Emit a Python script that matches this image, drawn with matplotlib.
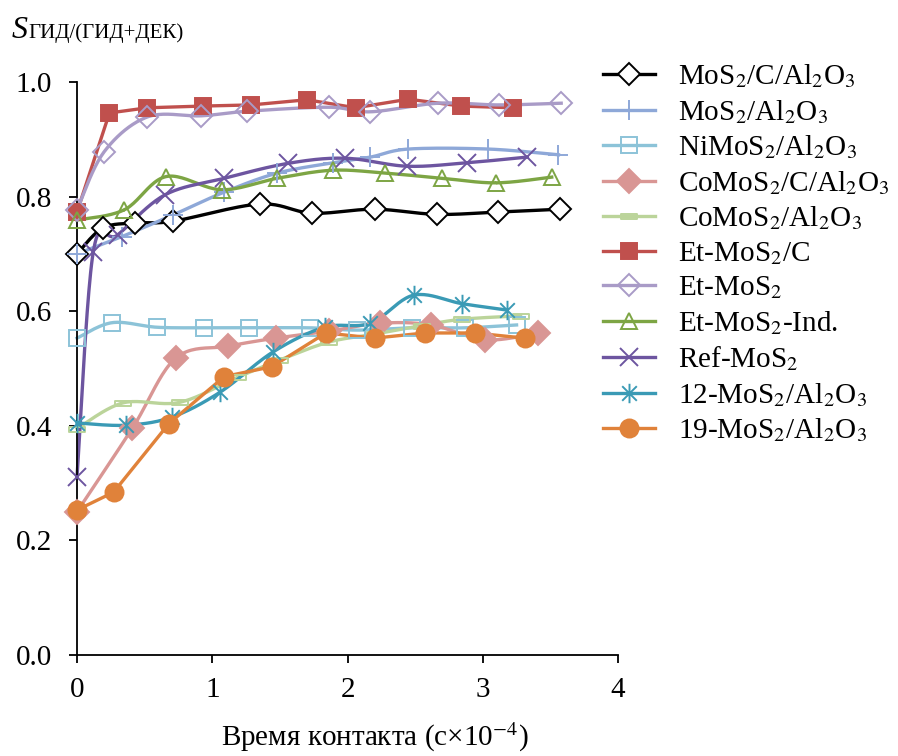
import numpy as np
import matplotlib
matplotlib.use("Agg")
import matplotlib.pyplot as plt
from matplotlib.path import Path

plt.rcParams['font.family'] = ['Liberation Serif', 'DejaVu Serif']
plt.rcParams['mathtext.fontset'] = 'stix'

# ---------------- data ----------------
x_mos2_c_al = [0, 0.19, 0.43, 0.71, 1.35, 1.74, 2.20, 2.66, 3.11, 3.57]
y_mos2_c_al = [0.70, 0.745, 0.754, 0.757, 0.787, 0.771, 0.778, 0.769, 0.773, 0.778]

x_mos2_al = [0, 0.33, 0.71, 1.09, 1.48, 1.89, 2.17, 2.45, 3.04, 3.56]
y_mos2_al = [0.70, 0.73, 0.768, 0.808, 0.841, 0.859, 0.869, 0.883, 0.883, 0.873]

x_nimos2 = [0, 0.26, 0.59, 0.94, 1.27, 1.72, 2.07, 2.48, 2.87, 3.25]
y_nimos2 = [0.553, 0.580, 0.572, 0.571, 0.571, 0.571, 0.567, 0.571, 0.571, 0.576]

x_comos2_c = [0, 0.41, 0.73, 1.12, 1.47, 1.86, 2.24, 2.62, 3.02, 3.41]
y_comos2_c = [0.25, 0.396, 0.518, 0.539, 0.553, 0.565, 0.579, 0.576, 0.550, 0.562]

x_comos2_al = [0, 0.34, 0.76, 1.19, 1.50, 1.86, 2.20, 2.55, 2.85, 3.28]
y_comos2_al = [0.395, 0.44, 0.441, 0.485, 0.515, 0.546, 0.560, 0.575, 0.586, 0.592]

x_et_c = [0, 0.24, 0.52, 0.93, 1.29, 1.70, 2.06, 2.45, 2.84, 3.22]
y_et_c = [0.773, 0.946, 0.955, 0.958, 0.960, 0.969, 0.955, 0.970, 0.958, 0.955]

x_et = [0, 0.20, 0.52, 0.92, 1.26, 1.86, 2.17, 2.67, 3.12, 3.58]
y_et = [0.777, 0.878, 0.939, 0.941, 0.949, 0.956, 0.948, 0.963, 0.960, 0.963]

x_et_ind = [0, 0.35, 0.66, 1.07, 1.48, 1.89, 2.28, 2.70, 3.10, 3.51]
y_et_ind = [0.759, 0.777, 0.835, 0.812, 0.832, 0.846, 0.841, 0.832, 0.824, 0.834]

x_ref = [0, 0.12, 0.30, 0.65, 1.09, 1.56, 1.98, 2.44, 2.88, 3.33]
y_ref = [0.311, 0.703, 0.733, 0.803, 0.832, 0.858, 0.867, 0.853, 0.859, 0.869]

x_12 = [0, 0.36, 0.70, 1.06, 1.45, 1.83, 2.17, 2.49, 2.85, 3.18]
y_12 = [0.405, 0.401, 0.415, 0.459, 0.529, 0.572, 0.579, 0.628, 0.613, 0.602]

x_19 = [0, 0.27, 0.68, 1.09, 1.44, 1.84, 2.20, 2.57, 2.94, 3.31]
y_19 = [0.253, 0.284, 0.404, 0.486, 0.503, 0.562, 0.553, 0.562, 0.562, 0.553]

labels = [
    "MoS$_2$/C/Al$_2$O$_3$",
    "MoS$_2$/Al$_2$O$_3$",
    "NiMoS$_2$/Al$_2$O$_3$",
    "CoMoS$_2$/C/Al$_2$O$_3$",
    "CoMoS$_2$/Al$_2$O$_3$",
    "Et-MoS$_2$/C",
    "Et-MoS$_2$",
    "Et-MoS$_2$-Ind.",
    "Ref-MoS$_2$",
    "12-MoS$_2$/Al$_2$O$_3$",
    "19-MoS$_2$/Al$_2$O$_3$",
]


def smooth(xs, ys, n=24):
    # Catmull-Rom curve through the points, like Excel's smoothed line
    xs = np.asarray(xs, float)
    ys = np.asarray(ys, float)
    px = np.concatenate([[xs[0]], xs, [xs[-1]]])
    py = np.concatenate([[ys[0]], ys, [ys[-1]]])
    ox, oy = [], []
    t = np.linspace(0, 1, n)
    for i in range(1, len(px) - 2):
        for p, out in ((px, ox), (py, oy)):
            p0, p1, p2, p3 = p[i - 1], p[i], p[i + 1], p[i + 2]
            out.extend(0.5 * ((2 * p1) + (-p0 + p2) * t
                              + (2 * p0 - 5 * p1 + 4 * p2 - p3) * t ** 2
                              + (-p0 + 3 * p1 - 3 * p2 + p3) * t ** 3))
    return np.array(ox), np.array(oy)


asterisk = Path([(0, -1), (0, 1), (-0.75, -0.75), (0.75, 0.75),
                 (-0.75, 0.75), (0.75, -0.75)],
                [Path.MOVETO, Path.LINETO, Path.MOVETO, Path.LINETO,
                 Path.MOVETO, Path.LINETO])
dash = Path([(-1, -0.3), (1, -0.3), (1, 0.3), (-1, 0.3), (-1, -0.3)],
            [Path.MOVETO, Path.LINETO, Path.LINETO, Path.LINETO, Path.CLOSEPOLY])

series = [
    (x_mos2_c_al, y_mos2_c_al, "#000000", "D", 11, "white", True),
    (x_mos2_al, y_mos2_al, "#8EA8D8", "+", 15, "none", True),
    (x_nimos2, y_nimos2, "#8CC3D8", "s", 11, "none", True),
    (x_comos2_c, y_comos2_c, "#D99694", "D", 12, None, True),
    (x_comos2_al, y_comos2_al, "#BBD49A", dash, 12, "none", True),
    (x_et_c, y_et_c, "#C0504D", "s", 12, None, False),
    (x_et, y_et, "#A99BC7", "D", 11, "none", True),
    (x_et_ind, y_et_ind, "#7DA544", "^", 12, "none", True),
    (x_ref, y_ref, "#6D55A0", "x", 13, "none", True),
    (x_12, y_12, "#3A9AB5", asterisk, 14, "none", True),
    (x_19, y_19, "#E0823A", "o", 13, None, False),
]

fig = plt.figure(figsize=(8.98, 7.56), dpi=100)
ax = fig.add_axes([77 / 898, 1 - 655 / 756, (618 - 77) / 898, (655 - 82) / 756])

handles = []
for (xs, ys, c, m, ms, mfc, sm), lab in zip(series, labels):
    if sm:
        lx, ly = smooth(xs, ys)
    else:
        lx, ly = xs, ys
    ax.plot(lx, ly, color=c, lw=2.4, clip_on=False, zorder=2)
    face = c if mfc is None else mfc
    ax.plot(xs, ys, ls="none", marker=m, ms=ms, mfc=face, mec=c,
            mew=1.4, clip_on=False, zorder=3)
    h, = ax.plot([], [], color=c, lw=2.4, marker=m, ms=ms, mfc=face,
                 mec=c, mew=1.4)
    handles.append(h)

ax.set_xlim(0, 4)
ax.set_ylim(0, 1.0)
ax.set_xticks([0, 1, 2, 3, 4])
ax.set_yticks(np.arange(0, 1.01, 0.2))
ax.set_yticklabels(["0.0", "0.2", "0.4", "0.6", "0.8", "1.0"])
ax.spines["top"].set_visible(False)
ax.spines["right"].set_visible(False)
for s in ("left", "bottom"):
    ax.spines[s].set_linewidth(1.3)
ax.tick_params(direction="out", length=6, width=1.3, labelsize=21)
ax.tick_params(axis="x", pad=10)
ax.tick_params(axis="y", pad=12)

fig.legend(handles, labels, loc="upper left", bbox_to_anchor=(591 / 898, 1 - 51 / 756),
           frameon=False, fontsize=21, handlelength=1.8, labelspacing=0.26,
           handletextpad=0.8, borderaxespad=0)

fig.text(12 / 898, 1 - 38 / 756, "S", fontsize=23, style="italic", va="baseline")
fig.text(28 / 898, 1 - 38 / 756, "ГИД/(ГИД+ДЕК)", fontsize=15, va="baseline")
fig.text(375 / 898, 1 - 737 / 756, "Время контакта (с×10$^{-4}$)", fontsize=21,
         ha="center", va="center")

fig.savefig("out.png", dpi=100)
